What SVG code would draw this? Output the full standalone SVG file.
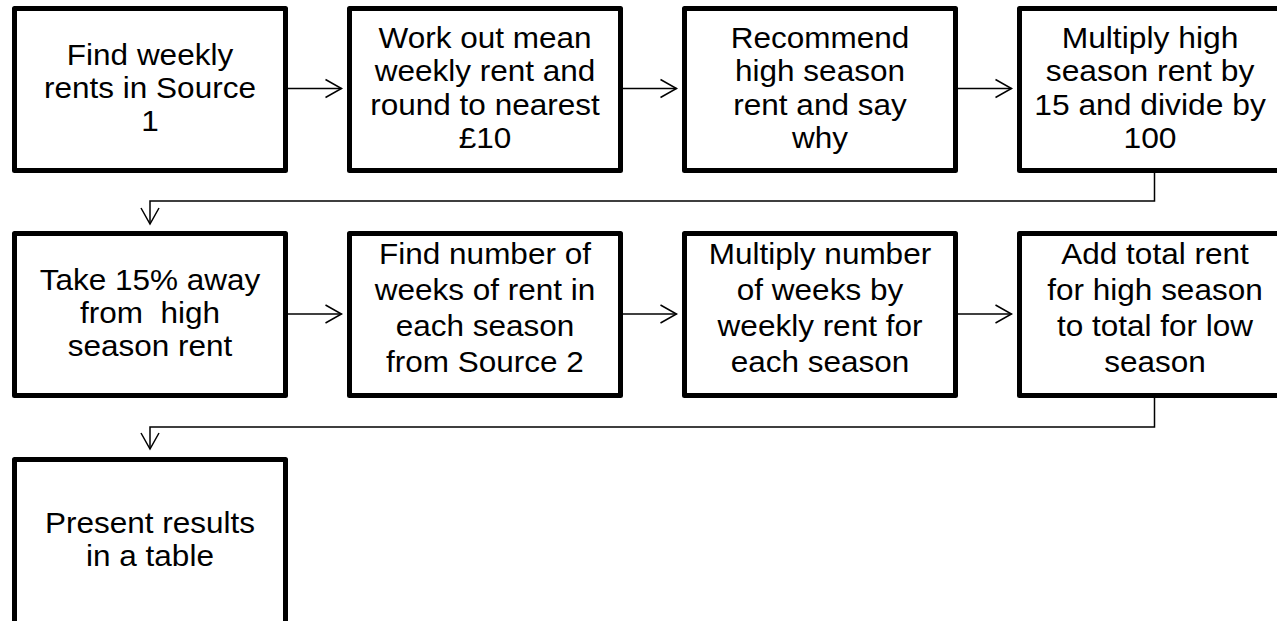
<svg xmlns="http://www.w3.org/2000/svg" width="1277" height="621" viewBox="0 0 1277 621">
<style>
.box{fill:#fff;stroke:#000;stroke-width:5;stroke-linejoin:round}
.lbl{font-family:"Liberation Sans",Arial,sans-serif;font-size:30px;fill:#000;text-anchor:middle}
.con{fill:none;stroke:#000;stroke-width:1.5}
</style>
<defs>
<marker id="arr" markerUnits="userSpaceOnUse" markerWidth="20" markerHeight="22" refX="16" refY="9" orient="auto" overflow="visible">
<path d="M0,0 L16,9 L0,18" fill="none" stroke="#000" stroke-width="1.5"/>
</marker>
</defs>
<rect width="1277" height="621" fill="#fff"/>
<g id="connectors">
<path class="con" d="M288,88.5 H341.5" marker-end="url(#arr)"/>
<path class="con" d="M623,88.5 H676.5" marker-end="url(#arr)"/>
<path class="con" d="M958,88.5 H1011.5" marker-end="url(#arr)"/>
<path class="con" d="M1154.5,173 V201 H150 V224" marker-end="url(#arr)"/>
<path class="con" d="M288,314 H341.5" marker-end="url(#arr)"/>
<path class="con" d="M623,314 H676.5" marker-end="url(#arr)"/>
<path class="con" d="M958,314 H1011.5" marker-end="url(#arr)"/>
<path class="con" d="M1154.5,398 V427 H150 V449" marker-end="url(#arr)"/>
</g>
<g id="n1">
<rect class="box" x="14.5" y="8.5" width="271" height="162"/>
<text class="lbl" transform="translate(150,0) scale(1.05,1)"><tspan x="0" y="65.5">Find weekly</tspan><tspan x="0" y="98.5">rents in Source</tspan><tspan x="0" y="131.5">1</tspan></text>
</g>
<g id="n2">
<rect class="box" x="349.5" y="8.5" width="271" height="162"/>
<text class="lbl" transform="translate(485,0) scale(1.05,1)"><tspan x="0" y="48">Work out mean</tspan><tspan x="0" y="81.3">weekly rent and</tspan><tspan x="0" y="114.6">round to nearest</tspan><tspan x="0" y="148">£10</tspan></text>
</g>
<g id="n3">
<rect class="box" x="684.5" y="8.5" width="271" height="162"/>
<text class="lbl" transform="translate(820,0) scale(1.05,1)"><tspan x="0" y="48">Recommend</tspan><tspan x="0" y="81.3">high season</tspan><tspan x="0" y="114.6">rent and say</tspan><tspan x="0" y="148">why</tspan></text>
</g>
<g id="n4">
<rect class="box" x="1019.5" y="8.5" width="271" height="162"/>
<text class="lbl" transform="translate(1150,0) scale(1.06,1)"><tspan x="0" y="48">Multiply high</tspan><tspan x="0" y="81.3">season rent by</tspan><tspan x="0" y="114.6">15 and divide by</tspan><tspan x="0" y="148">100</tspan></text>
</g>
<g id="n5">
<rect class="box" x="14.5" y="233.5" width="271" height="162"/>
<text class="lbl" transform="translate(150,0) scale(1.05,1)" xml:space="preserve"><tspan x="0" y="290">Take 15% away</tspan><tspan x="0" y="323">from  high</tspan><tspan x="0" y="356">season rent</tspan></text>
</g>
<g id="n6">
<rect class="box" x="349.5" y="233.5" width="271" height="162"/>
<text class="lbl" transform="translate(485,0) scale(1.05,1)"><tspan x="0" y="264">Find number of</tspan><tspan x="0" y="300">weeks of rent in</tspan><tspan x="0" y="336">each season</tspan><tspan x="0" y="372">from Source 2</tspan></text>
</g>
<g id="n7">
<rect class="box" x="684.5" y="233.5" width="271" height="162"/>
<text class="lbl" transform="translate(820,0) scale(1.05,1)"><tspan x="0" y="264">Multiply number</tspan><tspan x="0" y="300">of weeks by</tspan><tspan x="0" y="336">weekly rent for</tspan><tspan x="0" y="372">each season</tspan></text>
</g>
<g id="n8">
<rect class="box" x="1019.5" y="233.5" width="271" height="162"/>
<text class="lbl" transform="translate(1155,0) scale(1.05,1)"><tspan x="0" y="264">Add total rent</tspan><tspan x="0" y="300">for high season</tspan><tspan x="0" y="336">to total for low</tspan><tspan x="0" y="372">season</tspan></text>
</g>
<g id="n9">
<rect class="box" x="14.5" y="459.5" width="271" height="166"/>
<text class="lbl" transform="translate(150,0) scale(1.05,1)"><tspan x="0" y="533">Present results</tspan><tspan x="0" y="566">in a table</tspan></text>
</g>
</svg>
